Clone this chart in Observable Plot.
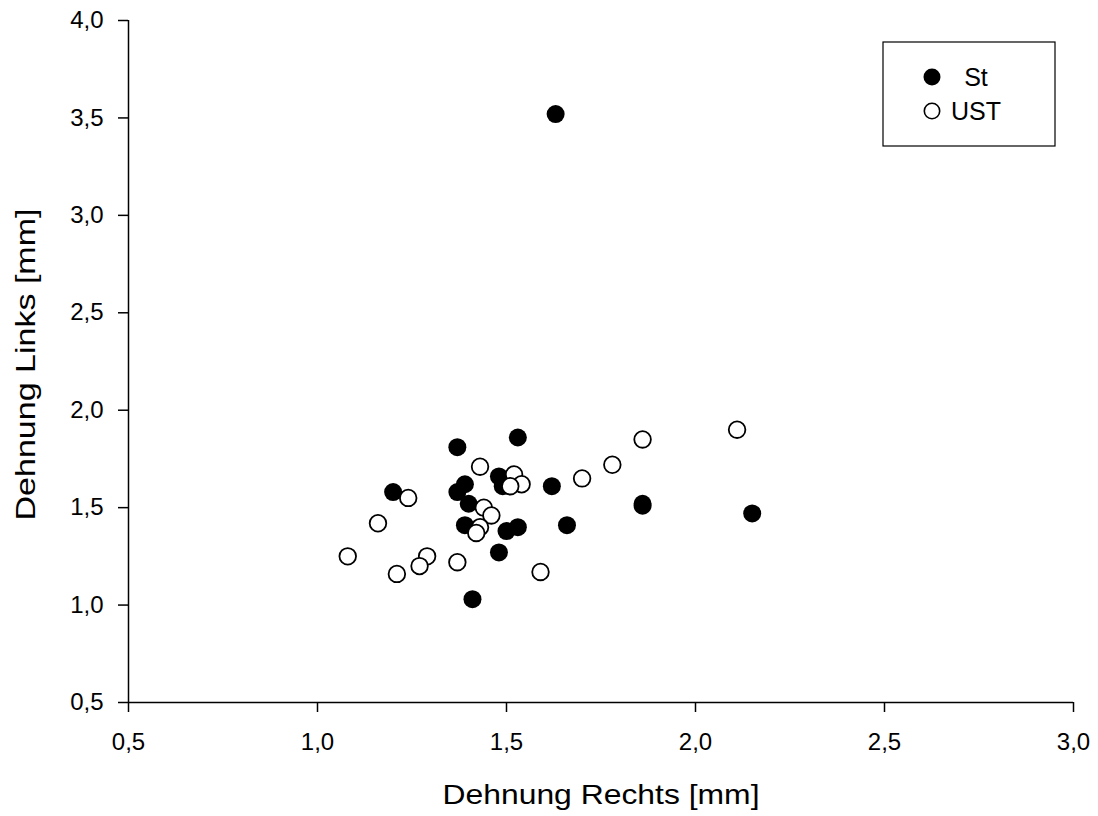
<!DOCTYPE html>
<html>
<head>
<meta charset="utf-8">
<script src="https://cdn.jsdelivr.net/npm/d3@7"></script>
<script src="https://cdn.jsdelivr.net/npm/@observablehq/plot@0.6"></script>
<style>
  html, body { margin: 0; padding: 0; background: #fff; }
  #chart { position: relative; width: 1098px; height: 816px; }
</style>
</head>
<body>
<div id="chart"></div>
<script>
// Series St (filled)
const stX = [1.37, 1.53, 1.20, 1.39, 1.37, 1.40, 1.48, 1.49, 1.62, 1.39, 1.50, 1.53, 1.66, 1.86, 1.86, 1.48, 1.41, 1.63, 2.15];
const stY = [1.81, 1.86, 1.58, 1.62, 1.58, 1.52, 1.66, 1.61, 1.61, 1.41, 1.38, 1.40, 1.41, 1.52, 1.51, 1.27, 1.03, 3.52, 1.47];
// Series UST (open)
const ustX = [1.43, 1.52, 1.54, 1.51, 1.70, 1.78, 1.86, 2.11, 1.24, 1.16, 1.44, 1.46, 1.43, 1.42, 1.08, 1.29, 1.27, 1.21, 1.37, 1.59];
const ustY = [1.71, 1.67, 1.62, 1.61, 1.65, 1.72, 1.85, 1.90, 1.55, 1.42, 1.50, 1.46, 1.40, 1.37, 1.25, 1.25, 1.20, 1.16, 1.22, 1.17];

const xTicks = [0.5, 1.0, 1.5, 2.0, 2.5, 3.0];
const yTicks = [0.5, 1.0, 1.5, 2.0, 2.5, 3.0, 3.5, 4.0];
const xTitle = "Dehnung Rechts [mm]";
const yTitle = "Dehnung Links [mm]";
const seriesNames = ["St", "UST"];

const st = stX.map((x, i) => ({x, y: stY[i]}));
const ust = ustX.map((x, i) => ({x, y: ustY[i]}));
const fmt = d => d3.format(".1f")(d).replace(".", ",");

const FONT = "'Liberation Sans', Arial, sans-serif";

const chart = Plot.plot({
  width: 1098,
  height: 816,
  marginLeft: 128,
  marginRight: 25,
  marginTop: 20,
  marginBottom: 114,
  style: { fontFamily: FONT, fontSize: "24px", background: "#fff", color: "#000" },
  x: { domain: [0.5, 3.0] },
  y: { domain: [0.5, 4.0] },
  marks: [
    Plot.axisX({ ticks: xTicks, tickFormat: fmt, tickSize: 10, tickPadding: 20, label: null, strokeWidth: 1.5 }),
    Plot.axisY({ ticks: yTicks, tickFormat: fmt, tickSize: 10, tickPadding: 15, label: null, strokeWidth: 1.5 }),
    Plot.ruleX([0.5], { stroke: "#000", strokeWidth: 1.5 }),
    Plot.ruleY([0.5], { stroke: "#000", strokeWidth: 1.5 }),
    Plot.dot(st, { x: "x", y: "y", r: 9, fill: "#000", stroke: "none" }),
    Plot.dot(ust, { x: "x", y: "y", r: 8.3, fill: "#fff", stroke: "#000", strokeWidth: 1.8 }),
    Plot.text([xTitle], { frameAnchor: "bottom", textAnchor: "middle", lineAnchor: "middle", dy: 93, fontSize: 28, fill: "#000" }),
    Plot.text([yTitle], { frameAnchor: "left", textAnchor: "middle", lineAnchor: "middle", rotate: -90, dx: -102, dy: 3, fontSize: 28, fill: "#000" })
  ]
});

document.getElementById("chart").appendChild(chart);

const svg = d3.select(chart);
// stretch axis titles to the reference's wide lettering
svg.selectAll("text").each(function () {
  const t = d3.select(this).text();
  if (t === xTitle) d3.select(this).attr("textLength", 317).attr("lengthAdjust", "spacingAndGlyphs");
  if (t === yTitle) d3.select(this).attr("textLength", 312).attr("lengthAdjust", "spacingAndGlyphs");
});

// Legend box inside the plot
const lg = svg.append("g").attr("font-family", FONT).attr("font-size", 25);
lg.append("rect").attr("x", 883).attr("y", 42).attr("width", 172).attr("height", 104)
  .attr("fill", "#fff").attr("stroke", "#000").attr("stroke-width", 1.2);
seriesNames.forEach((name, i) => {
  const cy = 77 + i * 34;
  lg.append("circle").attr("cx", 932).attr("cy", cy).attr("r", i === 0 ? 8.5 : 7.7)
    .attr("fill", i === 0 ? "#000" : "#fff").attr("stroke", "#000").attr("stroke-width", i === 0 ? 0 : 1.6);
  lg.append("text").attr("x", 976).attr("y", cy).attr("dy", "0.35em").text(name);
});
</script>
</body>
</html>
